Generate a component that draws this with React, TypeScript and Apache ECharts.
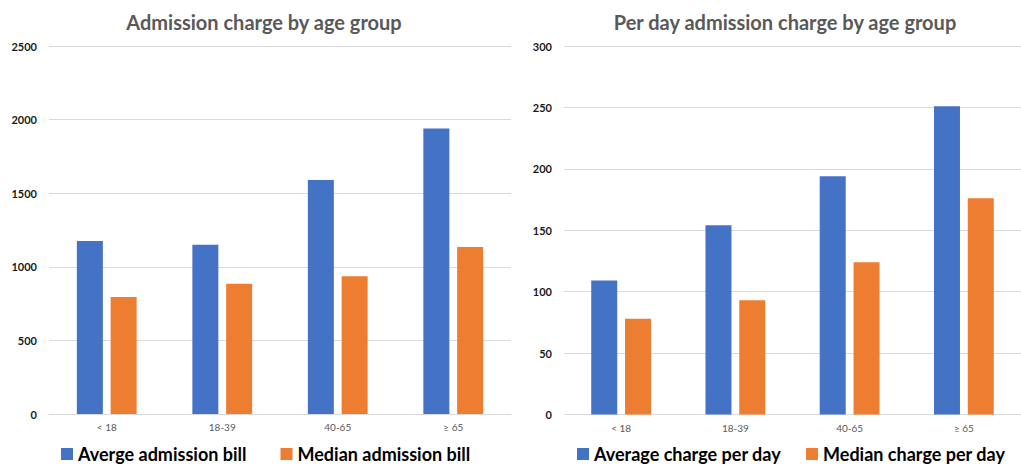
import React, { useEffect, useRef } from "react";
import * as echarts from "echarts";

// Age groups shared by both panels
const ageGroups = ["< 18", "18-39", "40-65", "≥ 65"];

// Left panel: total admission charge
const avgAdmissionBill = [1175, 1150, 1590, 1940];
const medianAdmissionBill = [795, 885, 935, 1135];

// Right panel: admission charge per day
const avgChargePerDay = [109, 154, 194, 251];
const medianChargePerDay = [78, 93, 124, 176];

const BLUE = "#4472C4";
const ORANGE = "#ED7D31";
const FONT = "Lato, 'Open Sans', sans-serif";

export default function App() {
  const ref = useRef<HTMLDivElement>(null);

  useEffect(() => {
    if (!ref.current) return;
    const chart = echarts.init(ref.current, null, { renderer: "svg" });

    const titleStyle = {
      fontFamily: FONT,
      fontSize: 20,
      fontWeight: "bold" as const,
      color: "#595959",
    };
    const legendText = {
      fontFamily: FONT,
      fontSize: 18,
      fontWeight: "bold" as const,
      color: "#000",
      lineHeight: 18,
    };
    const xAxisBase = {
      type: "category" as const,
      data: ageGroups,
      axisLine: { lineStyle: { color: "#d9d9d9" } },
      axisTick: { show: false },
      axisLabel: { fontFamily: FONT, fontSize: 10, color: "#595959", margin: 8 },
    };
    const yAxisBase = {
      type: "value" as const,
      min: 0,
      axisLine: { show: false },
      axisTick: { show: false },
      splitLine: { lineStyle: { color: "#d9d9d9" } },
      axisLabel: {
        fontFamily: FONT,
        fontSize: 11,
        fontWeight: "bold" as const,
        color: "#1a1a1a",
        margin: 12,
        formatter: (v: number) => String(v),
      },
    };
    const barBase = {
      type: "bar" as const,
      barWidth: 26,
      barGap: "30%",
    };

    chart.setOption({
      animation: false,
      backgroundColor: "#fff",
      title: [
        { text: "Admission charge by age group", left: 259, top: 7, textAlign: "center", textStyle: titleStyle },
        { text: "Per day admission charge by age group", left: 780, top: 7, textAlign: "center", textStyle: titleStyle },
      ],
      legend: [
        {
          data: ["Averge admission bill", "Median admission bill"],
          left: 61,
          top: 445,
          padding: 0,
          itemWidth: 12,
          itemHeight: 12,
          itemGap: 34,
          icon: "rect",
          textStyle: legendText,
        },
        {
          data: ["Average charge per day", "Median charge per day"],
          left: 577,
          top: 445,
          padding: 0,
          itemWidth: 12,
          itemHeight: 12,
          itemGap: 25,
          icon: "rect",
          textStyle: legendText,
        },
      ],
      grid: [
        { left: 49, top: 46, width: 462, height: 368 },
        { left: 564, top: 46, width: 469, height: 368.5 },
      ],
      xAxis: [
        { ...xAxisBase, gridIndex: 0 },
        { ...xAxisBase, gridIndex: 1 },
      ],
      yAxis: [
        { ...yAxisBase, gridIndex: 0, max: 2500, interval: 500 },
        { ...yAxisBase, gridIndex: 1, max: 300, interval: 50 },
      ],
      series: [
        { ...barBase, name: "Averge admission bill", xAxisIndex: 0, yAxisIndex: 0, data: avgAdmissionBill, itemStyle: { color: BLUE } },
        { ...barBase, name: "Median admission bill", xAxisIndex: 0, yAxisIndex: 0, data: medianAdmissionBill, itemStyle: { color: ORANGE } },
        { ...barBase, name: "Average charge per day", xAxisIndex: 1, yAxisIndex: 1, data: avgChargePerDay, itemStyle: { color: BLUE } },
        { ...barBase, name: "Median charge per day", xAxisIndex: 1, yAxisIndex: 1, data: medianChargePerDay, itemStyle: { color: ORANGE } },
      ],
    });

    return () => chart.dispose();
  }, []);

  return (
    <div
      ref={ref}
      style={{ position: "fixed", left: 0, top: 0, width: 1021, height: 465, background: "#fff" }}
    />
  );
}
